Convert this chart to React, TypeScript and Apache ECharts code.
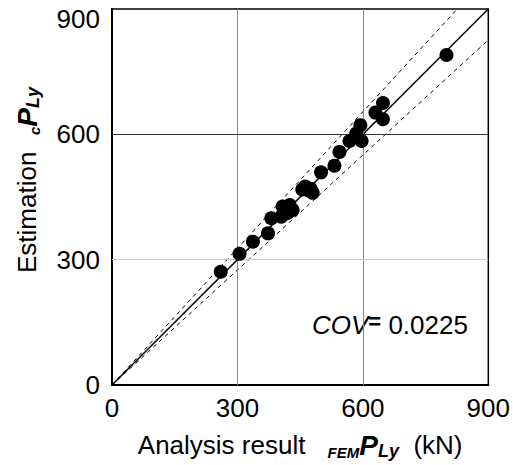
import React, { useEffect, useRef } from "react";
import * as echarts from "echarts";

const analysisFEM = [260, 305, 337, 373, 381, 405, 420, 425, 432, 408, 455, 462, 470, 475, 480, 500, 532, 544, 568, 594, 597, 584, 630, 648, 648, 800];
const estimation = [271, 314, 343, 363, 399, 403, 412, 431, 419, 427, 468, 475, 466, 470, 460, 509, 525, 558, 584, 622, 584, 602, 652, 675, 636, 790];
const ticks = [0, 300, 600, 900];
const upperSlope = 1.09;
const lowerSlope = 1 / 1.09;
const covText = "0.0225";

export default function App() {
  const ref = useRef<HTMLDivElement>(null);
  useEffect(() => {
    if (!ref.current) return;
    const chart = echarts.init(ref.current, null, { renderer: "svg" });
    const font = "Liberation Sans";
    const axisMax = ticks[ticks.length - 1];
    chart.setOption({
      animation: false,
      backgroundColor: "#fff",
      textStyle: { fontFamily: font },
      grid: { left: 112, top: 9, width: 377, height: 376, show: true, borderColor: "#000", borderWidth: 1.5 },
      xAxis: {
        type: "value", min: 0, max: axisMax, interval: 300,
        axisLine: { lineStyle: { color: "#000", width: 2 } },
        axisTick: { show: false },
        splitLine: { show: false },
        axisLabel: { fontSize: 26, color: "#000", margin: 10, fontFamily: font },
        name: "{a|Analysis result}{g|    }{sub|FEM}{P|P}{sub2|Ly}{a|  (kN)}",
        nameLocation: "middle",
        nameGap: 45,
        nameTextStyle: {
          fontFamily: font,
          rich: {
            a: { fontSize: 26, color: "#000", fontFamily: font, lineHeight: 30 },
            g: { fontSize: 20, lineHeight: 30 },
            P: { fontSize: 28, fontWeight: "bold", fontStyle: "italic", color: "#000", fontFamily: font, lineHeight: 30 },
            sub: { fontSize: 15, fontWeight: "bold", fontStyle: "italic", color: "#000", fontFamily: font, verticalAlign: "bottom", lineHeight: 30 },
            sub2: { fontSize: 18, fontWeight: "bold", fontStyle: "italic", color: "#000", fontFamily: font, verticalAlign: "bottom", lineHeight: 30 },
          },
        },
      },
      yAxis: {
        type: "value", min: 0, max: axisMax, interval: 300,
        axisLine: { lineStyle: { color: "#000", width: 2 } },
        axisTick: { show: false },
        splitLine: { show: false },
        axisLabel: { fontSize: 26, color: "#000", margin: 12, fontFamily: font, lineHeight: 20, verticalAlignMaxLabel: "top" },
      },
      graphic: [
        {
          type: "text",
          x: 27,
          y: 180,
          rotation: Math.PI / 2,
          style: {
            text: "{t|Estimation}{g|   }{c|c}{P|P}{sub|Ly}",
            align: "center",
            verticalAlign: "middle",
            fill: "#000",
            rich: {
              t: { fontSize: 26, fill: "#000", fontFamily: font, lineHeight: 30 },
              g: { fontSize: 20, lineHeight: 30 },
              c: { fontSize: 15, fontWeight: "bold", fontStyle: "italic", fill: "#000", fontFamily: font, verticalAlign: "bottom", lineHeight: 30 },
              P: { fontSize: 28, fontWeight: "bold", fontStyle: "italic", fill: "#000", fontFamily: font, lineHeight: 30 },
              sub: { fontSize: 18, fontWeight: "bold", fontStyle: "italic", fill: "#000", fontFamily: font, verticalAlign: "bottom", lineHeight: 30 },
            },
          },
        },
        {
          type: "text",
          x: 312,
          y: 325,
          style: {
            text: "{i|COV}{e|=}{n| " + covText + "}",
            align: "left",
            verticalAlign: "middle",
            rich: {
              i: { fontSize: 26, fontStyle: "italic", fill: "#000", fontFamily: font, lineHeight: 30 },
              e: { fontSize: 22, fill: "#000", fontFamily: font, verticalAlign: "top", lineHeight: 30, fontWeight: "bold" },
              n: { fontSize: 26, fill: "#000", fontFamily: font, lineHeight: 30 },
            },
          },
        },
      ],
      series: [
        {
          type: "line",
          data: [],
          silent: true,
          markLine: {
            silent: true,
            symbol: "none",
            label: { show: false },
            data: [
              { xAxis: 300, lineStyle: { color: "#888", width: 1, type: "solid" } },
              { xAxis: 600, lineStyle: { color: "#888", width: 1, type: "solid" } },
              { yAxis: 300, lineStyle: { color: "#ccc", width: 1, type: "solid" } },
              { yAxis: 600, lineStyle: { color: "#333", width: 1, type: "solid" } },
            ],
          },
        },
        {
          type: "line",
          data: [[0, 0], [axisMax, axisMax]],
          symbol: "none",
          lineStyle: { color: "#000", width: 1.5 },
          silent: true,
        },
        {
          type: "line",
          data: [[0, 0], [axisMax / upperSlope, axisMax]],
          symbol: "none",
          lineStyle: { color: "#000", width: 1, type: [4, 4] },
          silent: true,
        },
        {
          type: "line",
          data: [[0, 0], [axisMax, axisMax * lowerSlope]],
          symbol: "none",
          lineStyle: { color: "#000", width: 1, type: [4, 4] },
          silent: true,
        },
        {
          type: "scatter",
          data: analysisFEM.map((v, i) => [v, estimation[i]]),
          symbol: "circle",
          symbolSize: 14,
          itemStyle: { color: "#000", opacity: 1 },
          z: 5,
        },
      ],
    });
    return () => chart.dispose();
  }, []);
  return <div ref={ref} style={{ width: 513, height: 465, position: "absolute", left: 0, top: 0 }} />;
}
